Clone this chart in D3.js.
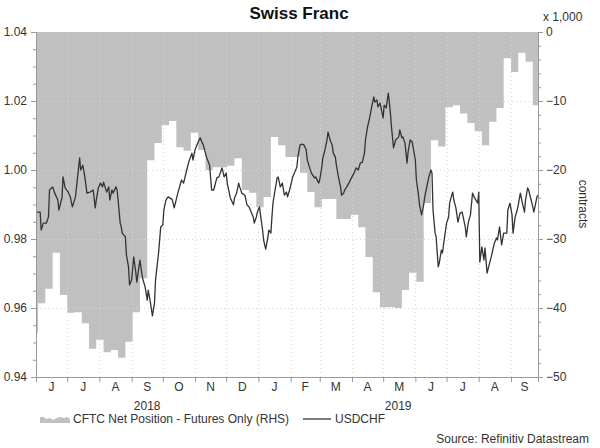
<!DOCTYPE html>
<html><head><meta charset="utf-8">
<script src="https://cdn.jsdelivr.net/npm/d3@7"></script>
<style>body{margin:0;background:#fff;} svg{display:block;font-family:"Liberation Sans",Arial,sans-serif;}</style>
</head><body><svg id="c" width="600" height="448"></svg>
<script>
// ---- data ----
const startDate = "2018-06-01";
const endDate = "2019-09-27";
// USDCHF: [days since 2018-06-01, value]
const usdchf = [
[0,0.9878],[4,0.9878],[5,0.9826],[7,0.9846],[10,0.9846],[12,0.9864],[13,0.9942],[16,0.9951],[18,0.9933],[21,0.9913],
[22,0.9884],[25,0.9919],[26,0.9980],[28,0.9948],[31,0.9936],[33,0.9922],[35,0.9893],[38,0.9922],[39,0.9951],[42,1.0035],
[43,1.0000],[45,1.0014],[47,0.9980],[49,0.9933],[52,0.9936],[55,0.9942],[57,0.9890],[58,0.9913],[60,0.9948],[62,0.9962],
[64,0.9951],[65,0.9965],[68,0.9936],[70,0.9951],[71,0.9913],[73,0.9942],[74,0.9933],[77,0.9951],[78,0.9942],[79,0.9913],
[81,0.9846],[82,0.9835],[83,0.9817],[86,0.9806],[87,0.9754],[89,0.9719],[90,0.9667],[92,0.9681],[94,0.9748],[96,0.9704],
[97,0.9675],[100,0.9739],[102,0.9696],[103,0.9681],[105,0.9661],[107,0.9623],[108,0.9652],[110,0.9617],[112,0.9577],[114,0.9614],
[115,0.9681],[118,0.9762],[120,0.9835],[122,0.9841],[123,0.9884],[125,0.9913],[127,0.9922],[131,0.9915],[133,0.9890],[136,0.9928],
[140,0.9971],[142,0.9962],[145,1.0000],[147,1.0023],[150,1.0049],[151,1.0029],[153,1.0058],[156,1.0081],[158,1.0093],[161,1.0072],
[164,1.0038],[167,1.0014],[169,0.9942],[171,0.9942],[174,0.9977],[176,0.9980],[179,1.0006],[181,0.9980],[183,0.9991],[184,0.9962],
[186,0.9933],[187,0.9919],[190,0.9899],[191,0.9919],[193,0.9933],[195,0.9962],[196,0.9951],[198,0.9933],[201,0.9927],[203,0.9899],
[205,0.9893],[207,0.9878],[209,0.9864],[210,0.9846],[212,0.9864],[213,0.9878],[215,0.9893],[216,0.9870],[218,0.9826],[219,0.9797],
[221,0.9771],[223,0.9803],[224,0.9826],[226,0.9817],[227,0.9864],[228,0.9904],[230,0.9942],[232,0.9977],[233,0.9980],[235,0.9951],
[237,0.9962],[239,0.9927],[241,0.9936],[242,0.9922],[244,0.9942],[247,0.9980],[249,0.9994],[251,1.0009],[252,1.0038],[254,1.0072],
[256,1.0075],[258,1.0072],[260,1.0058],[261,1.0029],[263,1.0009],[265,0.9991],[268,0.9977],[269,0.9980],[272,0.9962],[273,0.9971],
[275,1.0009],[276,1.0035],[278,1.0058],[280,1.0087],[281,1.0110],[283,1.0087],[285,1.0072],[286,1.0049],[288,1.0038],[289,1.0014],
[291,0.9980],[293,0.9951],[294,0.9927],[296,0.9933],[297,0.9942],[299,0.9951],[301,0.9962],[304,0.9980],[306,0.9991],[308,1.0006],
[310,1.0000],[312,1.0020],[314,1.0023],[316,1.0049],[317,1.0087],[319,1.0125],[321,1.0151],[323,1.0183],[325,1.0212],[326,1.0197],
[328,1.0203],[329,1.0183],[331,1.0194],[334,1.0151],[335,1.0188],[337,1.0180],[338,1.0203],[339,1.0223],[341,1.0165],[342,1.0125],
[344,1.0064],[346,1.0087],[349,1.0096],[350,1.0116],[352,1.0093],[353,1.0096],[355,1.0078],[357,1.0020],[358,1.0052],[360,1.0087],
[362,1.0081],[365,1.0029],[366,0.9971],[368,0.9927],[369,0.9899],[371,0.9870],[373,0.9899],[374,0.9922],[376,0.9951],[378,0.9980],
[380,1.0000],[381,0.9991],[382,0.9884],[384,0.9817],[385,0.9806],[387,0.9719],[388,0.9730],[390,0.9768],[391,0.9759],[395,0.9846],
[397,0.9864],[398,0.9904],[400,0.9927],[401,0.9936],[402,0.9913],[404,0.9890],[406,0.9849],[408,0.9875],[410,0.9878],[413,0.9835],
[414,0.9806],[416,0.9849],[418,0.9870],[420,0.9933],[422,0.9919],[425,0.9904],[426,0.9936],[427,0.9733],[429,0.9777],[431,0.9739],
[432,0.9774],[434,0.9701],[436,0.9725],[438,0.9748],[441,0.9788],[443,0.9803],[444,0.9797],[446,0.9835],[448,0.9783],[450,0.9817],
[453,0.9817],[454,0.9884],[456,0.9904],[458,0.9870],[459,0.9817],[461,0.9864],[463,0.9884],[464,0.9899],[466,0.9933],[468,0.9904],
[470,0.9878],[471,0.9913],[473,0.9948],[474,0.9942],[478,0.9893],[479,0.9878],[482,0.9922],[483,0.9927]
];
// CFTC net position (thousands of contracts), weekly from this date
const cftcStart = "2018-05-27";
const cftcValues = [-43.6,-39.3,-37.2,-32.0,-38.1,-40.7,-40.6,-42.2,-45.9,-44.6,-46.4,-46.1,-47.2,-44.9,-40.6,-35.7,
-18.6,-16.1,-13.5,-12.9,-16.7,-17.2,-14.6,-17.1,-20.0,-19.6,-19.6,-19.4,-18.3,-22.9,-23.3,-25.4,-23.9,-15.2,-16.4,-18.1,
-18.1,-20.4,-23.2,-25.4,-24.2,-24.2,-27.1,-27.1,-26.5,-28.3,-32.6,-37.7,-39.9,-39.9,-40.0,-37.4,-34.9,-36.2,-24.8,-15.7,
-16.6,-10.9,-10.6,-11.8,-13.2,-14.4,-16.4,-13.0,-11.0,-3.8,-5.8,-3.0,-4.3,-10.6];
const leftTicks = [0.94,0.96,0.98,1.00,1.02,1.04];
const rightTicks = [-50,-40,-30,-20,-10,0];
const monthLabels = ["J","J","A","S","O","N","D","J","F","M","A","M","J","J","A","S"];
const yearLabels = ["2018","2019"];
const title = "Swiss Franc";
const legendLabels = ["CFTC Net Position - Futures Only (RHS)","USDCHF"];
const sourceText = "Source: Refinitiv Datastream";

// ---- chart ----
const parse = d3.timeParse("%Y-%m-%d");
const t0 = parse(startDate), t1 = parse(endDate);
const L = 36, R = 538, T = 32, B = 377;
const x = d3.scaleTime().domain([t0, t1]).range([L, R]);
const yL = d3.scaleLinear().domain([0.94, 1.04]).range([B, T]);
const yR = d3.scaleLinear().domain([-50, 0]).range([B, T]);
const svg = d3.select("#c");
const txt = "#333";

svg.append("defs").append("clipPath").attr("id","clip")
  .append("rect").attr("x",L).attr("y",T).attr("width",R-L).attr("height",B-T);

// area
const cs = parse(cftcStart);
const cftc = cftcValues.map((v,i)=>({d:d3.timeDay.offset(cs,7*i), v}));
cftc.push({d:t1, v:cftcValues[cftcValues.length-1]});
const area = d3.area().curve(d3.curveStepAfter)
  .x(p=>x(p.d)).y0(yR(0)).y1(p=>yR(p.v));
svg.append("path").datum(cftc).attr("clip-path","url(#clip)")
  .attr("d",area).attr("fill","#c0c0c0");

// grid
const months = d3.timeMonth.range(d3.timeMonth.ceil(d3.timeDay.offset(t0,1)), t1);
const grid = svg.append("g").attr("stroke","#d6d6d6").attr("stroke-dasharray","1,3").attr("stroke-width",1);
months.forEach(m=>grid.append("line").attr("x1",Math.round(x(m))+0.5).attr("x2",Math.round(x(m))+0.5).attr("y1",T).attr("y2",B));
leftTicks.slice(1,-1).forEach(v=>grid.append("line").attr("x1",L).attr("x2",R).attr("y1",Math.round(yL(v))+0.5).attr("y2",Math.round(yL(v))+0.5));

// line
const line = d3.line().x(p=>x(d3.timeDay.offset(t0,p[0]))).y(p=>yL(p[1]));
svg.append("path").datum(usdchf).attr("d",line).attr("fill","none")
  .attr("stroke","#333").attr("stroke-width",1.3).attr("stroke-linejoin","round");

// axes
function styleAxis(g){ g.selectAll("path,line").attr("stroke","#9a9a9a"); g.selectAll("text").attr("fill",txt).style("font-size","12px").style("font-family","'Liberation Sans',Arial,sans-serif"); }
const minorL = d3.range(0.94,1.0401,0.005).map(v=>+v.toFixed(3));
svg.append("g").attr("transform",`translate(${L},0)`).call(d3.axisLeft(yL).tickValues(minorL).tickSize(3).tickFormat("")).call(styleAxis);
svg.append("g").attr("transform",`translate(${L},0)`).call(d3.axisLeft(yL).tickValues(leftTicks).tickSize(5).tickPadding(4).tickFormat(d3.format(".2f"))).call(styleAxis);
const minorR = d3.range(-50,0.1,2);
svg.append("g").attr("transform",`translate(${R},0)`).call(d3.axisRight(yR).tickValues(minorR).tickSize(3).tickFormat("")).call(styleAxis);
svg.append("g").attr("transform",`translate(${R},0)`).call(d3.axisRight(yR).tickValues(rightTicks).tickSize(5).tickPadding(3).tickFormat(d3.format("d"))).call(styleAxis);
svg.append("g").attr("transform",`translate(0,${B})`).call(d3.axisBottom(x).tickValues(months).tickSize(5).tickFormat("")).call(styleAxis);

// month labels at month midpoints
const allMonths = d3.timeMonth.range(d3.timeMonth.floor(t0), t1);
allMonths.forEach((m,i)=>{
  const a = m < t0 ? t0 : m;
  const e = d3.timeMonth.offset(m,1); const b = e > t1 ? t1 : e;
  svg.append("text").attr("x",(x(a)+x(b))/2).attr("y",391).attr("text-anchor","middle")
    .attr("fill",txt).style("font-size","12px").text(monthLabels[i]);
});
const years = [t0, d3.timeYear.ceil(t0), t1];
yearLabels.forEach((yl,i)=>{
  svg.append("text").attr("x",(x(years[i])+x(years[i+1]))/2).attr("y",410).attr("text-anchor","middle")
    .attr("fill",txt).style("font-size","12px").text(yl);
});

// titles
svg.append("text").attr("x",299).attr("y",19).attr("text-anchor","middle").attr("fill","#111")
  .style("font-size","17px").style("font-weight","bold").text(title);
svg.append("text").attr("x",543).attr("y",21).attr("fill",txt).style("font-size","12px").text("x 1,000");
svg.append("text").attr("transform","translate(579,204) rotate(90)").attr("text-anchor","middle")
  .attr("fill",txt).style("font-size","12px").text("contracts");

// legend
const lg = svg.append("g");
lg.append("path").attr("d","M40,423 L40,417 L44,417 L46,419 L50,418 L53,420 L57,418 L60,417 L64,418 L67,417 L70,419 L70,423 Z").attr("fill","#c0c0c0");
lg.append("text").attr("x",73).attr("y",423).attr("fill",txt).style("font-size","12px").text(legendLabels[0]);
lg.append("line").attr("x1",303).attr("x2",331).attr("y1",419).attr("y2",419).attr("stroke","#333").attr("stroke-width",1.3);
lg.append("text").attr("x",335).attr("y",423).attr("fill",txt).style("font-size","12px").text(legendLabels[1]);
svg.append("text").attr("x",589).attr("y",443).attr("text-anchor","end").attr("fill",txt).style("font-size","12px").text(sourceText);
</script></body></html>
